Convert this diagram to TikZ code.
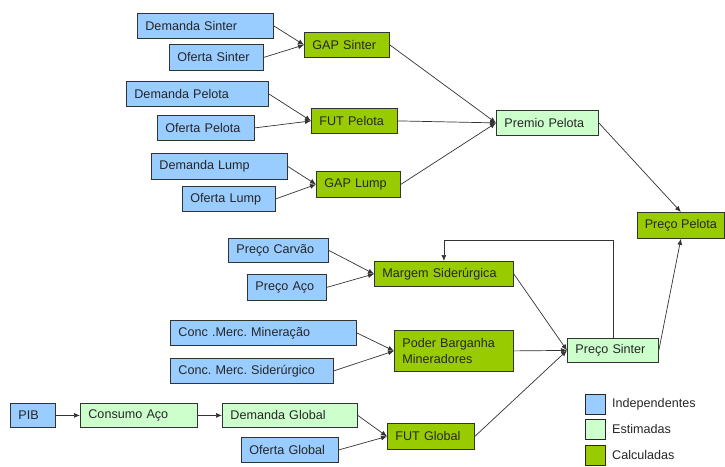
\documentclass[tikz,border=0pt]{standalone}
\usepackage{fontspec}
\setmainfont{Liberation Sans}
\usetikzlibrary{arrows.meta}
\definecolor{indep}{HTML}{99CCFF}
\definecolor{estim}{HTML}{CCFFCC}
\definecolor{calc}{HTML}{99CC00}
\definecolor{edgec}{HTML}{333333}
\begin{document}
\begin{tikzpicture}[x=1pt,y=-1pt,
  bx/.style={rectangle, draw=black!80, line width=0.8pt, anchor=north west,
    inner xsep=8pt, inner ysep=0pt, minimum height=25pt, align=left,
    font=\fontsize{12.6}{16}\selectfont\frenchspacing, text=black!85},
  ind/.style={bx, fill=indep},
  est/.style={bx, fill=estim},
  cal/.style={bx, fill=calc},
  arr/.style={draw=edgec, line width=0.7pt, -{Latex[length=6pt,width=5pt]}},
  leg/.style={rectangle, draw=black!85, line width=1pt, minimum width=20pt, minimum height=20pt, inner sep=0pt, anchor=north west},
  legt/.style={anchor=west, font=\fontsize{12.6}{16}\selectfont, text=black!85, inner sep=0pt}]
\useasboundingbox (0,0) rectangle (725,466);
% top group
\node[ind, text width=120pt] (ds) at (137,13) {Demanda Sinter};
\node[ind, text width=78pt, minimum height=26pt] (os) at (169,44) {Oferta Sinter};
\node[cal, text width=69pt] (gs) at (304,32) {GAP Sinter};
\node[ind, text width=126pt] (dp) at (126,81) {Demanda Pelota};
\node[ind, text width=81pt] (op) at (157,115) {Oferta Pelota};
\node[cal, text width=70pt] (fp) at (311,108) {FUT Pelota};
\node[ind, text width=120pt, minimum height=26pt] (dl) at (151,153) {Demanda Lump};
\node[ind, text width=77pt] (ol) at (182,186) {Oferta Lump};
\node[cal, text width=68pt, minimum height=26pt] (gl) at (316,171) {GAP Lump};
\node[est, text width=86pt] (pp) at (496,110) {Premio Pelota};
\node[cal, inner xsep=0pt, minimum width=87pt, minimum height=26pt] (pcp) at (637,212) {Preço Pelota};
% middle group
\node[ind, text width=84pt, minimum height=24pt] (pc) at (228,238) {Preço Carvão};
\node[ind, text width=63pt, minimum height=26pt] (pa) at (247,274) {Preço Aço};
\node[cal, text width=123pt] (ms) at (374,261) {Margem Siderúrgica};
\node[ind, text width=170pt] (cm) at (170,320) {Conc .Merc. Mineração};
\node[ind, text width=147pt] (cs) at (170,358) {Conc. Merc. Siderúrgico};
\node[cal, text width=103pt, minimum height=41pt] (pb) at (394,330) {Poder Barganha\\Mineradores};
\node[est, text width=75pt, minimum height=24pt] (ps) at (567,338) {Preço Sinter};
% bottom group
\node[ind, text width=29pt, minimum height=24pt] (pib) at (10,403) {PIB};
\node[est, text width=101pt, minimum height=24pt] (ca) at (80,403) {Consumo Aço};
\node[est, text width=119pt, minimum height=24pt] (dg) at (222,403) {Demanda Global};
\node[ind, text width=81pt] (og) at (241,437) {Oferta Global};
\node[cal, text width=71pt, minimum height=26pt] (fg) at (387,423) {FUT Global};
% legend
\node[leg, fill=indep] (l1) at (585,394) {};
\node[leg, fill=estim] (l2) at (585,419) {};
\node[leg, fill=calc] (l3) at (585,445) {};
\node[legt] (t1) at (612,404) {Independentes};
\node[legt] (t2) at (612,429) {Estimadas};
\node[legt] (t3) at (612,455) {Calculadas};
% connectors
\draw[arr] (ds.east) -- (gs.west);
\draw[arr] (os.east) -- (gs.west);
\draw[arr] (dp.east) -- (fp.west);
\draw[arr] (op.east) -- (fp.west);
\draw[arr] (dl.east) -- (gl.west);
\draw[arr] (ol.east) -- (gl.west);
\draw[arr] (gs.east) -- (pp.west);
\draw[arr] (fp.east) -- (pp.west);
\draw[arr] (gl.east) -- (pp.west);
\draw[arr] (pp.east) -- (pcp.north);
\draw[arr] (pc.east) -- (ms.west);
\draw[arr] (pa.east) -- (ms.west);
\draw[arr] (cm.east) -- (pb.west);
\draw[arr] (cs.east) -- (pb.west);
\draw[arr] (ms.east) -- (ps.west);
\draw[arr] (pb.east) -- (ps.west);
\draw[arr] (fg.east) -- (ps.west);
\draw[arr] (ps.east) -- (pcp.south);
\draw[arr] (ps.north) -- (ps.north |- 0,240) -| (ms.north);
\draw[arr] (pib.east) -- (ca.west);
\draw[arr] (ca.east) -- (dg.west);
\draw[arr] (dg.east) -- (fg.west);
\draw[arr] (og.east) -- (fg.west);
\end{tikzpicture}
\end{document}
